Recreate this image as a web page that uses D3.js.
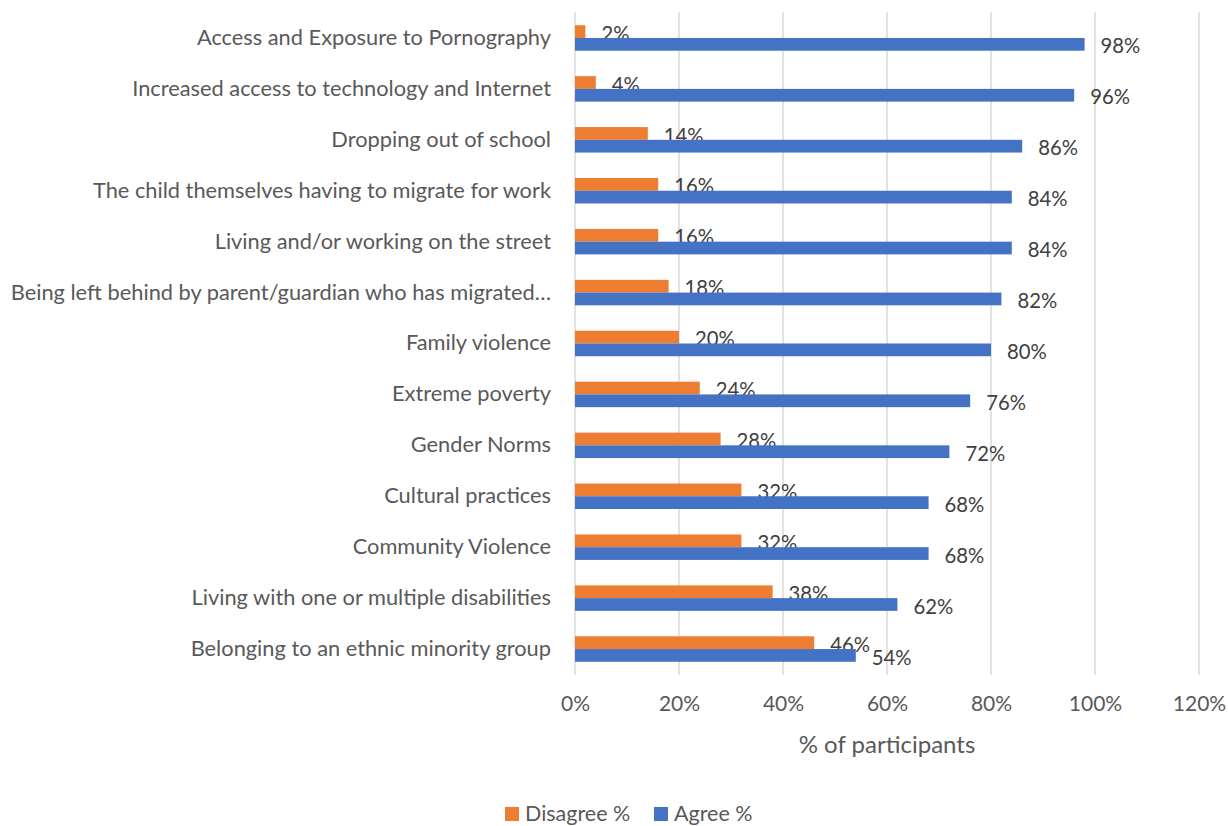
<!DOCTYPE html>
<html>
<head>
<meta charset="utf-8">
<script src="https://cdn.jsdelivr.net/npm/d3@7"></script>
<style>
  body { margin: 0; background: #fff; }
  svg { display: block; font-family: Lato, "Open Sans", sans-serif; }
</style>
</head>
<body>
<svg id="chart" width="1228" height="826"></svg>
<script>
// Risk factors and share of participants who agree / disagree
const categories = [
  "Access and Exposure to Pornography",
  "Increased access to technology and Internet",
  "Dropping out of school",
  "The child themselves having to migrate for work",
  "Living and/or working on the street",
  "Being left behind by parent/guardian who has migrated…",
  "Family violence",
  "Extreme poverty",
  "Gender Norms",
  "Cultural practices",
  "Community Violence",
  "Living with one or multiple disabilities",
  "Belonging to an ethnic minority group"
];
const disagree = [2, 4, 14, 16, 16, 18, 20, 24, 28, 32, 32, 38, 46];
const agree = [98, 96, 86, 84, 84, 82, 80, 76, 72, 68, 68, 62, 54];
const xTicks = [0, 20, 40, 60, 80, 100, 120];
const seriesNames = ["Disagree %", "Agree %"];
const seriesColors = ["#ED7D31", "#4472C4"];

const svg = d3.select("#chart");
const plotLeft = 575, plotRight = 1199, plotTop = 12.5, plotBottom = 674.5;

const x = d3.scaleLinear().domain([0, 120]).range([plotLeft, plotRight]);
const y = d3.scaleBand().domain(categories).range([plotTop, plotBottom]).paddingInner(0.5).paddingOuter(0.25);
const inner = d3.scaleBand().domain([0, 1]).range([0, y.bandwidth()]);

// vertical gridlines
svg.append("g").selectAll("line").data(xTicks).join("line")
  .attr("x1", d => x(d)).attr("x2", d => x(d))
  .attr("y1", plotTop).attr("y2", plotBottom)
  .attr("stroke", "#d9d9d9").attr("stroke-width", 1.5);

// x axis tick labels
const xAxis = d3.axisBottom(x).tickValues(xTicks).tickFormat(d => d + "%").tickSize(0).tickPadding(0);
const gx = svg.append("g").attr("transform", `translate(0,${plotBottom + 22})`).call(xAxis);
gx.select(".domain").remove();
gx.selectAll("text").attr("font-size", 21).attr("fill", "#595959")
  .attr("font-family", "Lato, 'Open Sans', sans-serif");

// category labels
const yAxis = d3.axisLeft(y).tickSize(0).tickPadding(0);
const gy = svg.append("g").attr("transform", `translate(${plotLeft - 24},0)`).call(yAxis);
gy.select(".domain").remove();
gy.selectAll("text").attr("font-size", 21.8).attr("fill", "#595959")
  .attr("font-family", "Lato, 'Open Sans', sans-serif");

// bars and value labels
const series = [disagree, agree];
series.forEach((vals, si) => {
  const g = svg.append("g");
  g.selectAll("rect").data(vals).join("rect")
    .attr("x", x(0))
    .attr("y", (d, i) => y(categories[i]) + inner(si))
    .attr("width", d => x(d) - x(0))
    .attr("height", inner.bandwidth())
    .attr("fill", seriesColors[si]);
  g.selectAll("text").data(vals).join("text")
    .attr("x", d => x(d) + 16)
    .attr("y", (d, i) => y(categories[i]) + inner(si) + inner.bandwidth() / 2 + 2)
    .attr("dy", "0.35em")
    .attr("font-size", 20.3)
    .attr("fill", "#404040")
    .text(d => d + "%");
});

// axis title
svg.append("text")
  .attr("x", (plotLeft + plotRight) / 2).attr("y", 753)
  .attr("text-anchor", "middle")
  .attr("font-size", 24).attr("fill", "#595959")
  .text("% of participants");

// legend
const legend = svg.append("g").attr("transform", "translate(505,806)");
const legendX = [0, 149];
seriesNames.forEach((name, i) => {
  const item = legend.append("g").attr("transform", `translate(${legendX[i]},0)`);
  item.append("rect").attr("y", 1).attr("width", 14).attr("height", 14).attr("fill", seriesColors[i]);
  item.append("text").attr("x", 20).attr("y", 7).attr("dy", "0.35em")
    .attr("font-size", 21.5).attr("fill", "#595959").text(name);
});
</script>
</body>
</html>
